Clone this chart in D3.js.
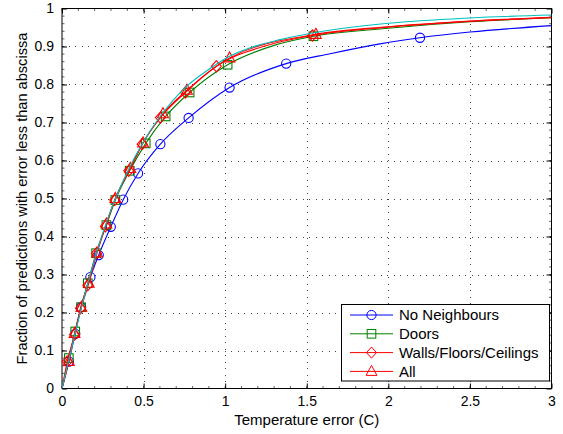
<!DOCTYPE html>
<html><head><meta charset="utf-8">
<script src="https://cdn.jsdelivr.net/npm/d3@7"></script>
<style>body{margin:0;background:#fff}svg{display:block;font-family:"Liberation Sans",Arial,sans-serif}</style>
</head><body><svg id="c" width="563" height="434"></svg>
<script>
const xTicks = [0, 0.5, 1, 1.5, 2, 2.5, 3];
const yTicks = [0, 0.1, 0.2, 0.3, 0.4, 0.5, 0.6, 0.7, 0.8, 0.9, 1];
const seriesNames = ["No Neighbours", "Doors", "Walls/Floors/Ceilings", "All"];

// No Neighbours (blue circles)
const noNbX = [0.042,0.081,0.117,0.174,0.225,0.299,0.375,0.466,0.603,0.776,1.027,1.374,2.194];
const noNbY = [0.071,0.144,0.214,0.293,0.351,0.4255,0.497,0.566,0.643,0.712,0.792,0.855,0.923];
const noNbLineX = [1.643,1.949,2.5,3];
const noNbLineY = [0.881,0.907,0.938,0.955];
// Doors (green squares)
const doorsX = [0.042,0.081,0.117,0.158,0.209,0.272,0.327,0.415,0.513,0.635,0.782,1.015,1.541];
const doorsY = [0.08,0.15,0.214,0.277,0.356,0.43,0.496,0.573,0.645,0.716,0.779,0.852,0.927];
const doorsLineX = [1.3,2.0,2.5,3];
const doorsLineY = [0.903,0.948,0.965,0.9755];
// Walls/Floors/Ceilings (red diamonds)
const wallsX = [0.032,0.077,0.113,0.158,0.211,0.266,0.323,0.409,0.491,0.603,0.756,0.946,1.535];
const wallsY = [0.071,0.142,0.211,0.272,0.356,0.427,0.496,0.573,0.643,0.713,0.779,0.848,0.929];
const wallsLineX = [1.25,2.0,2.5,3];
const wallsLineY = [0.902,0.951,0.966,0.976];
// All (red triangles)
const allX = [0.042,0.077,0.119,0.164,0.215,0.272,0.327,0.419,0.497,0.619,0.766,1.027,1.556];
const allY = [0.071,0.145,0.214,0.277,0.357,0.433,0.5,0.579,0.646,0.723,0.785,0.870,0.932];
const allLineX = [2.0,2.5,3];
const allLineY = [0.952,0.967,0.977];
// Extra cyan curve (no markers)
const cyanX = [0,0.05,0.1,0.2,0.3,0.4,0.5,0.6,0.75,0.9,1.0,1.2,1.337,1.6,2.0,2.5,3];
const cyanY = [0,0.09,0.18,0.34,0.47,0.57,0.65,0.715,0.79,0.84,0.868,0.903,0.918,0.94,0.961,0.975,0.983];

const W = 563, H = 434;
const m = {l: 62, r: 11.5, t: 8.5, b: 45.5};
const svg = d3.select("#c");
const x = d3.scaleLinear().domain([0, 3]).range([m.l, W - m.r]);
const y = d3.scaleLinear().domain([0, 1]).range([H - m.b, m.t]);
const x0 = x(0), x1 = x(3), y0 = y(0), y1 = y(1);

// grid
const grid = svg.append("g").attr("stroke", "#444").attr("stroke-width", 1).attr("stroke-dasharray", "1,5.5").attr("shape-rendering", "crispEdges");
xTicks.slice(1, -1).forEach(v => grid.append("line").attr("x1", Math.round(x(v)) + 0.5).attr("x2", Math.round(x(v)) + 0.5).attr("y1", y0).attr("y2", y1));
yTicks.slice(1, -1).forEach(v => grid.append("line").attr("y1", Math.round(y(v)) + 0.5).attr("y2", Math.round(y(v)) + 0.5).attr("x1", x0).attr("x2", x1));

// axes with ticks (inward) on all sides
const fmt = d => d3.format("")(d);
const axB = svg.append("g").attr("transform", `translate(0,${y0})`)
  .call(d3.axisBottom(x).tickValues(xTicks).tickSizeInner(-5).tickSizeOuter(0).tickPadding(8).tickFormat(fmt));
const axL = svg.append("g").attr("transform", `translate(${x0},0)`)
  .call(d3.axisLeft(y).tickValues(yTicks).tickSizeInner(-5).tickSizeOuter(0).tickPadding(8).tickFormat(fmt));
const axT = svg.append("g").attr("transform", `translate(0,${y1})`)
  .call(d3.axisTop(x).tickValues(xTicks).tickSizeInner(-5).tickSizeOuter(0).tickFormat(""));
const axR = svg.append("g").attr("transform", `translate(${x1},0)`)
  .call(d3.axisRight(y).tickValues(yTicks).tickSizeInner(-5).tickSizeOuter(0).tickFormat(""));
[axB, axL, axT, axR].forEach(a => {
  a.select(".domain").remove();
  a.selectAll("line").attr("stroke", "#000");
  a.selectAll("text").attr("font-size", 14).attr("fill", "#000").attr("font-family", "Liberation Sans, Arial, sans-serif");
});
// minor ticks
const xMinor = d3.range(0, 3.0001, 0.1);
const yMinor = d3.range(0, 1.0001, 0.02);
const mn = svg.append("g").attr("stroke", "#000").attr("stroke-width", 0.6);
xMinor.forEach(v => {
  mn.append("line").attr("x1", x(v)).attr("x2", x(v)).attr("y1", y0).attr("y2", y0 - 2.5);
  mn.append("line").attr("x1", x(v)).attr("x2", x(v)).attr("y1", y1).attr("y2", y1 + 2.5);
});
yMinor.forEach(v => {
  mn.append("line").attr("y1", y(v)).attr("y2", y(v)).attr("x1", x0).attr("x2", x0 + 2.5);
  mn.append("line").attr("y1", y(v)).attr("y2", y(v)).attr("x1", x1).attr("x2", x1 - 2.5);
});
// box
svg.append("rect").attr("x", x0).attr("y", y1).attr("width", x1 - x0).attr("height", y0 - y1)
  .attr("fill", "none").attr("stroke", "#000").attr("stroke-width", 1);

// labels
svg.append("text").attr("x", (x0 + x1) / 2).attr("y", 425).attr("text-anchor", "middle").attr("font-size", 15).text("Temperature error (C)");
svg.append("text").attr("transform", `translate(27,${(y0 + y1) / 2}) rotate(-90)`).attr("text-anchor", "middle").attr("font-size", 14.6)
  .text("Fraction of predictions with error less than abscissa");

// series
const zip = (a, b) => a.map((v, i) => [v, b[i]]);
const series = [
  {name: seriesNames[0], color: "#0000ff", marker: "circle", pts: zip(noNbX, noNbY), tail: zip(noNbLineX, noNbLineY)},
  {name: seriesNames[1], color: "#008000", marker: "square", pts: zip(doorsX, doorsY), tail: zip(doorsLineX, doorsLineY)},
  {name: seriesNames[2], color: "#ff0000", marker: "diamond", pts: zip(wallsX, wallsY), tail: zip(wallsLineX, wallsLineY)},
  {name: seriesNames[3], color: "#ff0000", marker: "triangle", pts: zip(allX, allY), tail: zip(allLineX, allLineY)}
];
const line = d3.line().x(d => x(d[0])).y(d => y(d[1])).curve(d3.curveMonotoneX);
svg.append("defs").append("clipPath").attr("id", "pc").append("rect")
  .attr("x", x0).attr("y", y1 - 1).attr("width", x1 - x0).attr("height", y0 - y1 + 1);

function drawMarker(g, type, cx, cy) {
  if (type === "circle") g.append("circle").attr("cx", cx).attr("cy", cy).attr("r", 4.6);
  else if (type === "square") g.append("rect").attr("x", cx - 4.3).attr("y", cy - 4.3).attr("width", 8.6).attr("height", 8.6);
  else if (type === "diamond") g.append("path").attr("d", `M${cx},${cy - 5.6}L${cx + 5},${cy}L${cx},${cy + 5.6}L${cx - 5},${cy}Z`);
  else if (type === "triangle") g.append("path").attr("d", `M${cx},${cy - 6}L${cx + 5.4},${cy + 4}L${cx - 5.4},${cy + 4}Z`);
}

series.forEach(s => {
  const all = [[0, 0]].concat(s.pts, s.tail).sort((a, b) => a[0] - b[0]);
  svg.append("path").attr("d", line(all)).attr("fill", "none").attr("stroke", s.color).attr("stroke-width", 1.1).attr("clip-path", "url(#pc)");
  const g = svg.append("g").attr("fill", "none").attr("stroke", s.color).attr("stroke-width", 1.1);
  s.pts.forEach(p => drawMarker(g, s.marker, x(p[0]), y(p[1])));
});
svg.append("path").attr("d", line(zip(cyanX, cyanY))).attr("fill", "none").attr("stroke", "#00bfbf").attr("stroke-width", 1.1).attr("clip-path", "url(#pc)");

// legend
const lg = svg.append("g");
lg.append("rect").attr("x", 341.5).attr("y", 304.5).attr("width", 208).attr("height", 76.5).attr("fill", "#fff").attr("stroke", "#000").attr("stroke-width", 1);
series.forEach((s, i) => {
  const ly = 315 + i * 18.8;
  lg.append("line").attr("x1", 350).attr("x2", 393).attr("y1", ly).attr("y2", ly).attr("stroke", s.color).attr("stroke-width", 1);
  const g = lg.append("g").attr("fill", "none").attr("stroke", s.color).attr("stroke-width", 1);
  drawMarker(g, s.marker, 371.5, ly);
  lg.append("text").attr("x", 399).attr("y", ly + 5.3).attr("font-size", 15).text(s.name);
});
</script></body></html>
